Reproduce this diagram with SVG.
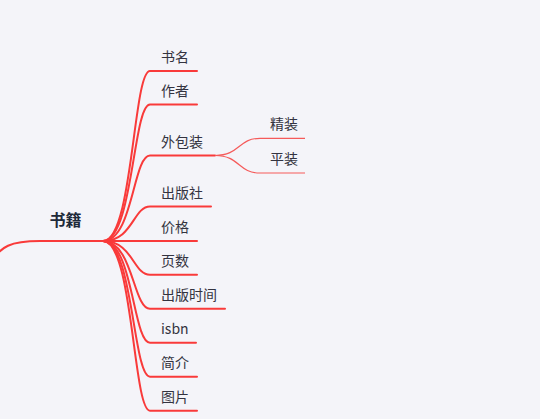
<svg xmlns="http://www.w3.org/2000/svg" width="540" height="419" viewBox="0 0 540 419">
<style>
.bg{fill:#f4f4f9}
.main{fill:none;stroke:#f93a3a;stroke-width:2;stroke-linecap:round}
.sub{fill:none;stroke:#f55a5a;stroke-width:1.2}
.t{font-family:"Noto Sans CJK SC","Noto Sans",sans-serif;font-size:14px;fill:#333340}
.root{font-family:"Noto Sans CJK SC","Noto Sans",sans-serif;font-size:16px;font-weight:bold;fill:#1e2a3a}
</style>
<rect class="bg" width="540" height="419"/>
<g id="connectors">
<path class="main" d="M-12,264 C2,246 10,241 40,241 L103,241"/>
<path class="main" d="M103,241 C133,241 133,71 150,71 L197,71"/>
<path class="main" d="M103,241 C133,241 133,104.5 150,104.5 L197,104.5"/>
<path class="main" d="M103,241 C133,241 133,155.5 150,155.5 L215,155.5"/>
<path class="main" d="M103,241 C133,241 133,206.5 150,206.5 L211,206.5"/>
<path class="main" d="M103,241 L197,241"/>
<path class="main" d="M103,241 C133,241 133,274.8 150,274.8 L197,274.8"/>
<path class="main" d="M103,241 C133,241 133,308.8 150,308.8 L225,308.8"/>
<path class="main" d="M103,241 C133,241 133,342.7 150,342.7 L196,342.7"/>
<path class="main" d="M103,241 C133,241 133,376.7 150,376.7 L197,376.7"/>
<path class="main" d="M103,241 C133,241 133,410.7 150,410.7 L197,410.7"/>
<path class="sub" d="M215,155.5 C240,155.5 238,138.3 260,138.3 L305,138.3"/>
<path class="sub" d="M215,155.5 C240,155.5 238,173 260,173 L305,173"/>
</g>
<g id="root"><text class="root" x="65.5" y="226" text-anchor="middle">书籍</text></g>
<g id="n-shuming"><text class="t" x="161" y="62">书名</text></g>
<g id="n-zuozhe"><text class="t" x="161" y="95.5">作者</text></g>
<g id="n-waibaozhuang"><text class="t" x="161" y="146.5">外包装</text></g>
<g id="n-jingzhuang"><text class="t" x="270" y="129.3">精装</text></g>
<g id="n-pingzhuang"><text class="t" x="270" y="164">平装</text></g>
<g id="n-chubanshe"><text class="t" x="161" y="197.5">出版社</text></g>
<g id="n-jiage"><text class="t" x="161" y="232">价格</text></g>
<g id="n-yeshu"><text class="t" x="161" y="265.8">页数</text></g>
<g id="n-chubanshijian"><text class="t" x="161" y="299.8">出版时间</text></g>
<g id="n-isbn"><text class="t" x="161" y="333.5">isbn</text></g>
<g id="n-jianjie"><text class="t" x="161" y="367.7">简介</text></g>
<g id="n-tupian"><text class="t" x="161" y="401.7">图片</text></g>
</svg>
